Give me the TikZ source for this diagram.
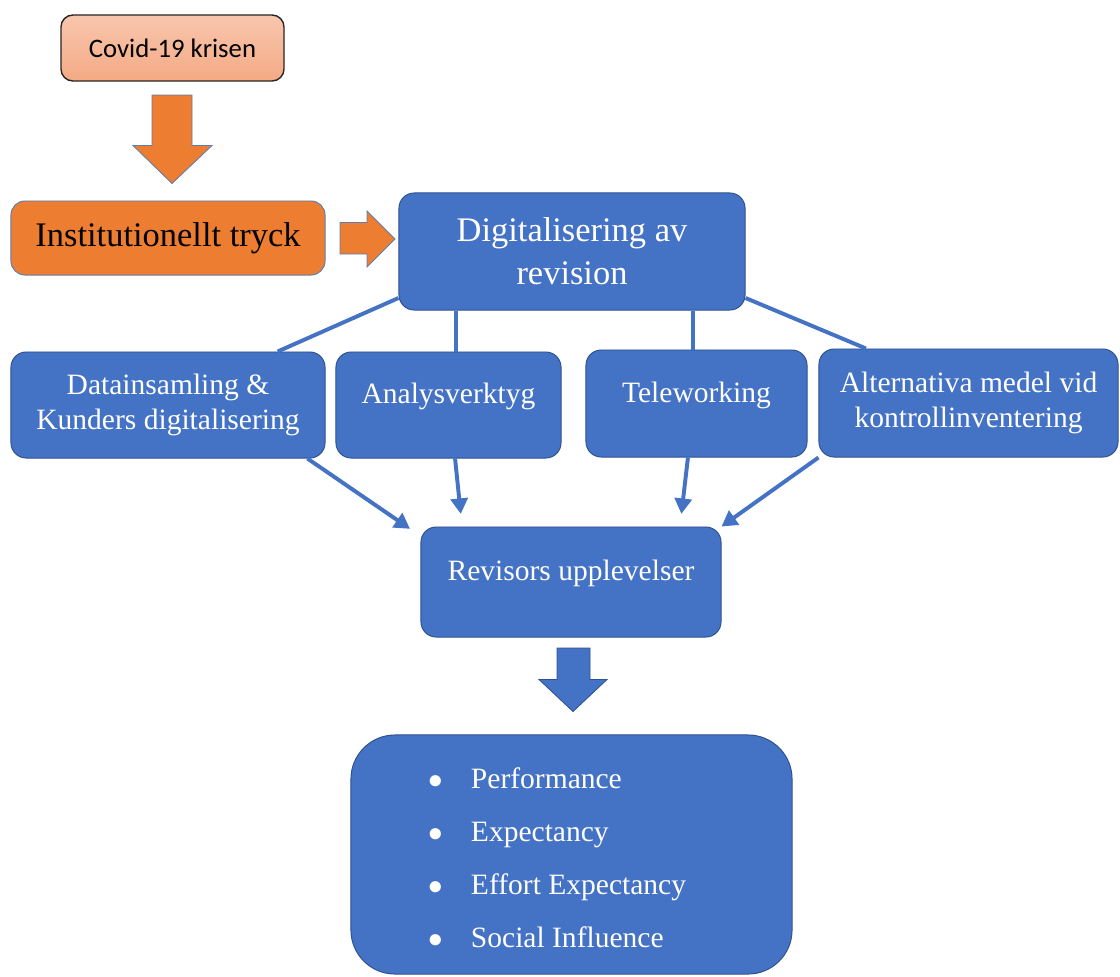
\documentclass[tikz,border=0pt]{standalone}
\usepackage{fontspec}
\setmainfont{Liberation Serif}
\newfontfamily\calibri{Carlito}
\usetikzlibrary{arrows.meta}

\definecolor{boxblue}{HTML}{4472C4}
\definecolor{blueline}{HTML}{2F528F}
\definecolor{boxorange}{HTML}{ED7D31}
\definecolor{greyblue}{HTML}{5B7FAE}
\definecolor{covidtop}{HTML}{F8C6AE}
\definecolor{covidbot}{HTML}{F4AA84}

\tikzset{
  bluebox/.style={draw=blueline, fill=boxblue, rounded corners=0.38cm, line width=0.7pt,
    text=white, align=center, font=\fontsize{21}{25}\selectfont},
  lift/.style={text depth=0.58cm},
  link/.style={boxblue, line width=2.8pt},
  tip/.style={link, -{Triangle[length=11pt,width=12pt]}},
  blockarrow/.style={line width=0.6pt, line join=miter},
}
\newcommand\itm{\makebox[1.05cm][l]{$\bullet$}}

\begin{document}
\begin{tikzpicture}[x=0.025cm,y=-0.025cm]
  \useasboundingbox (0,0) rectangle (1120,976);

  % top: crisis and pressure
  \node[draw=black!85, line width=1pt, rounded corners=0.3cm, top color=covidtop, bottom color=covidbot,
    minimum width=5.575cm, minimum height=1.65cm, font=\calibri\fontsize{19}{23}\selectfont] (covid) at (172.5,48) {Covid-19 krisen};
  \node[draw=greyblue, line width=0.7pt, fill=boxorange, rounded corners=0.35cm,
    minimum width=7.85cm, minimum height=1.85cm, font=\fontsize{24.5}{30}\selectfont] (tryck) at (168,238) {Institutionellt tryck};
  \node[bluebox, minimum width=8.65cm, minimum height=2.925cm, font=\fontsize{24.5}{30.6}\selectfont] (dig) at (572,251.5) {Digitalisering av\\revision};

  \draw[blockarrow, draw=greyblue, fill=boxorange] (152,95) -- (192,95) -- (192,145.5) -- (212,145.5) -- (172,183.5)
    -- (133,145.5) -- (152,145.5) -- cycle;
  \draw[blockarrow, draw=greyblue, fill=boxorange] (340,222.5) -- (367,222.5) -- (367,211) -- (395,239) -- (367,267)
    -- (367,254) -- (340,254) -- cycle;

  % middle row
  \node[bluebox, minimum width=7.85cm, minimum height=2.65cm] (data) at (168,405) {Datainsamling \&\\Kunders digitalisering};
  \node[bluebox, lift, minimum width=5.625cm, minimum height=2.65cm] (ana) at (448.5,405) {Analysverktyg};
  \node[bluebox, lift, minimum width=5.525cm, minimum height=2.675cm] (tele) at (696.5,403.5) {Teleworking};
  \node[bluebox, minimum width=7.475cm, minimum height=2.7cm] (alt) at (968.5,403) {Alternativa medel vid\\kontrollinventering};
  \node[bluebox, lift, minimum width=7.5cm, minimum height=2.75cm] (rev) at (571,582) {Revisors upplevelser};

  \draw[link] (dig.195) -- (data.26);
  \draw[link] (dig.207.6) -- (dig.207.6 |- ana.north);
  \draw[link] (dig.334) -- (dig.334 |- tele.north);
  \draw[link] (dig.345.9) -- (alt.152);

  \draw[tip, shorten >=9pt] (data.339.5) -- (rev.163);
  \draw[tip, shorten >=9pt] (ana.277) -- (rev.153);
  \draw[tip, shorten >=9pt] (tele.261) -- (rev.27);
  \draw[tip] (alt.south west) -- (rev.north east);

  % bottom
  \draw[blockarrow, draw=blueline, fill=boxblue] (557,648) -- (590,648) -- (590,679.5) -- (607,679.5) -- (573,711.5)
    -- (539,679.5) -- (557,679.5) -- cycle;
  \node[bluebox, rounded corners=1.1cm, minimum width=11.025cm, minimum height=5.975cm] (utaut) at (571.5,854.5) {};
  \node[anchor=west, text=white, align=left, font=\fontsize{21}{37.7}\selectfont] (items) at (424,858)
    {\itm Performance\\
     \itm Expectancy\\
     \itm Effort Expectancy\\
     \itm Social Influence};
\end{tikzpicture}
\end{document}
